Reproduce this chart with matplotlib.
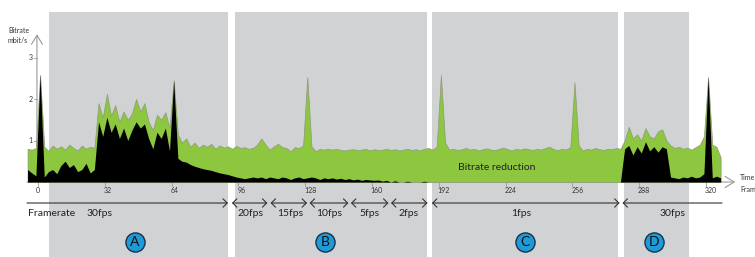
import numpy as np
import matplotlib.pyplot as plt

plt.rcParams['font.family'] = ['Lato', 'DejaVu Sans']

# frame index (every second frame)
frames = np.arange(-5, 329, 2)

# total bitrate (green) in mbit/s
total = [
    .80, .78, .82, 2.58, .85, .75, .88, .80, .86, .78,
    .90, .82, .76, .88, .80, .85, .82, 1.90, 1.55, 2.12,
    1.60, 1.85, 1.45, 1.70, 1.50, 1.65, 2.00, 1.70, 1.90, 1.45,
    1.25, 1.62, 1.50, 1.68, 1.30, 2.45, 1.15, .95, 1.05, .85,
    .95, .82, .90, .85, .92, .80, .88, .83, .86, .80,
    .87, .82, .84, .80, .82, .90, 1.05, .90, .78, .86,
    .92, .84, .82, .74, .84, .82, .88, 2.53, .86, .74,
    .80, .78, .80, .78, .80, .77, .76, .78, .79, .77,
    .78, .80, .76, .79, .77, .78, .80, .77, .79, .76,
    .78, .80, .77, .79, .76, .80, .82, .78, .85, 2.58,
    .95, .78, .80, .77, .79, .82, .78, .80, .76, .79,
    .81, .78, .77, .80, .83, .79, .76, .80, .78, .81,
    .79, .77, .80, .78, .82, .85, .79, .77, .80, .78,
    .84, 2.40, .88, .76, .80, .78, .82, .79, .77, .80,
    .79, .82, .80, 1.00, 1.33, 1.05, 1.15, 1.00, 1.30, 1.10,
    1.05, 1.22, 1.27, 1.00, .88, .82, .85, .80, .83, .78,
    .84, .90, 1.10, 2.53, .90, .85, .60,
]

# bitrate of the full-rate (black) part in mbit/s
keyframes = [
    .30, .22, .15, 2.58, .12, .25, .30, .20, .40, .50,
    .35, .42, .25, .30, .45, .22, .30, 1.45, 1.10, 1.56,
    1.20, 1.40, 1.05, 1.30, 1.00, 1.25, 1.45, 1.30, 1.40, 1.05,
    .80, 1.20, 1.05, 1.30, .75, 2.45, .57, .50, .48, .42,
    .38, .35, .32, .30, .28, .25, .22, .20, .18, .15,
    .12, .10, .08, .10, .12, .10, .12, .08, .12, .10,
    .08, .12, .10, .06, .10, .12, .08, .10, .12, .10,
    .06, .10, .08, .10, .07, .09, .06, .08, .05, .07,
    .04, .06, .05, .04, .05, .02, .04, 0, .03, 0,
    0, .02, 0, 0, 0, .02, 0, 0, 0, 0,
    0, 0, 0, 0, 0, 0, 0, 0, 0, 0,
    0, 0, 0, 0, 0, 0, 0, 0, 0, 0,
    0, 0, 0, 0, 0, 0, 0, 0, 0, 0,
    0, 0, 0, 0, 0, 0, 0, 0, 0, 0,
    0, 0, 0, .80, .88, .65, .85, .70, .97, .75,
    .85, .72, .85, .80, .12, .10, .08, .12, .10, .14,
    .10, .12, .20, 2.53, .10, .14, .10,
]

frame_ticks = [0, 32, 64, 96, 128, 160, 192, 224, 256, 288, 320]
rate_ticks = [1, 2, 3]

# test phases (gray panels)
phase_names = ['A', 'B', 'C', 'D']
phase_spans = [(5.3, 91.0), (94.4, 186.3), (188.7, 277.8), (280.7, 311.9)]
phase_mark_x = [46.5, 137.5, 233.3, 295.1]

# framerate segments
fps_labels = ['30fps', '20fps', '15fps', '10fps', '5fps', '2fps', '1fps', '30fps']
fps_spans = [(-5.3, 91.0), (92.9, 109.9), (111.4, 128.9), (130.1, 148.7),
             (149.9, 167.9), (169.1, 186.6), (188.7, 278.6), (280.0, 327.7)]
fps_label_x = [29.7, 101.6, 120.7, 139.4, 159.0, 177.7, 231.4, 304.2]

green = '#8DC63F'
panel_gray = '#D1D2D4'
axis_gray = '#9a9a9a'

fig = plt.figure(figsize=(7.55, 2.57), dpi=100)
ax = fig.add_axes([0, 0, 1, 1])
ax.set_xlim(-18.2, 343.47)
ax.set_ylim(-1.807, 4.386)
ax.axis('off')

for a, b in phase_spans:
    ax.axvspan(a, b, ymin=0, ymax=0.953, color=panel_gray, lw=0, zorder=0)

# axes with open arrow heads
ax.annotate('', xy=(334, 0), xytext=(-5.3, 0),
            arrowprops=dict(arrowstyle='->,head_length=0.65,head_width=0.4',
                            color=axis_gray, lw=0.8, shrinkA=0, shrinkB=0), zorder=1)
ax.annotate('', xy=(-0.5, 3.56), xytext=(-0.5, 0),
            arrowprops=dict(arrowstyle='->,head_length=0.65,head_width=0.4',
                            color=axis_gray, lw=0.8, shrinkA=0, shrinkB=0), zorder=1)

ax.fill_between(frames, total, color=green, edgecolor='#8c9a7c', lw=0.5, zorder=2)
ax.fill_between(frames, keyframes, color='black', lw=0, zorder=3)

for v in rate_ticks:
    ax.plot([-2.0, -0.5], [v, v], color=axis_gray, lw=0.6, zorder=1)
    ax.text(-2.4, v, str(v), ha='right', va='center', fontsize=5, color='#333')
for t in frame_ticks:
    ax.plot([t, t], [0, -0.1], color=axis_gray, lw=0.6, zorder=1)
    ax.text(t - 0.6 if t else t, -0.2, str(t), ha='left' if t else 'center',
            va='center', fontsize=5, color='#333')

ax.text(-14.4, 3.64, 'Bitrate', fontsize=5, va='center', color='#333')
ax.text(-14.4, 3.42, 'mbit/s', fontsize=5, va='center', color='#333')
ax.text(336.3, 0.1, 'Time', fontsize=5, va='center', color='#333')
ax.text(336.3, -0.19, 'Frame', fontsize=5, va='center', color='#333')

ax.text(219.9, 0.34, 'Bitrate reduction', fontsize=7.5, ha='center',
        va='center', color='#222', zorder=4)

# framerate row
row_y = -0.506
for i, (a, b) in enumerate(fps_spans):
    if i == 0:
        style = '->'
    elif i == len(fps_spans) - 1:
        style = '<-'
    else:
        style = '<->'
    ax.annotate('', xy=(b, row_y), xytext=(a, row_y),
                arrowprops=dict(arrowstyle=style + ',head_length=0.3,head_width=0.3',
                                color='#333', lw=0.8, shrinkA=0, shrinkB=0))
ax.text(-5.0, -0.747, 'Framerate', fontsize=7.5, ha='left', va='center', color='#222')
for lbl, x in zip(fps_labels, fps_label_x):
    ax.text(x, -0.747, lbl, fontsize=7.5, ha='center', va='center', color='#222')

ax.scatter(phase_mark_x, [-1.446] * 4, s=190, c='#1E9BD7',
           edgecolors='#17324d', linewidths=1, zorder=5)
for name, x in zip(phase_names, phase_mark_x):
    ax.text(x, -1.446, name, fontsize=10, ha='center', va='center',
            color='#111', zorder=6)

fig.savefig('out.png', dpi=100)
